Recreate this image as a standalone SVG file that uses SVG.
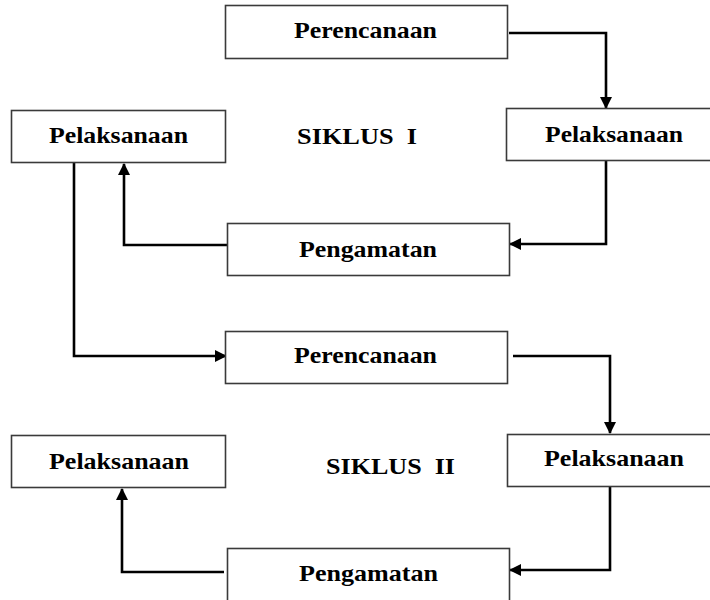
<svg xmlns="http://www.w3.org/2000/svg" width="710" height="600" viewBox="0 0 710 600">
<style>
.box{fill:#fff;stroke:#3a3a3a;stroke-width:1.6}
.lbl{font-family:"Liberation Serif","Times New Roman",serif;font-weight:bold;font-size:24px;fill:#000}
.con{fill:none;stroke:#000;stroke-width:2.6;marker-end:url(#ah)}
</style>
<defs>
<marker id="ah" markerUnits="userSpaceOnUse" markerWidth="12" markerHeight="12" viewBox="0 0 12 12" refX="11" refY="6" orient="auto">
<path d="M0,0 L12,6 L0,12 Z" fill="#000"/>
</marker>
</defs>
<rect width="710" height="600" fill="#fff"/>
<g id="connectors">
<path class="con" d="M509,33 H606 V108"/>
<path class="con" d="M606,161 V244 H510"/>
<path class="con" d="M227,245 H124 V164"/>
<path class="con" d="M74,163 V356 H226"/>
<path class="con" d="M513,356 H610 V433"/>
<path class="con" d="M610,487 V570 H510"/>
<path class="con" d="M224,572 H122 V489"/>
</g>
<g id="perencanaan1"><rect class="box" x="225.5" y="5.5" width="282" height="53"/><text class="lbl" x="294" y="38" textLength="143" lengthAdjust="spacingAndGlyphs">Perencanaan</text></g>
<g id="pelaksanaan1r"><rect class="box" x="506.5" y="108.5" width="220" height="52"/><text class="lbl" x="545" y="142" textLength="138" lengthAdjust="spacingAndGlyphs">Pelaksanaan</text></g>
<g id="pelaksanaan1l"><rect class="box" x="11.5" y="110.5" width="214" height="52"/><text class="lbl" x="49" y="143" textLength="139" lengthAdjust="spacingAndGlyphs">Pelaksanaan</text></g>
<g id="siklus1"><text class="lbl" x="297" y="144" textLength="120" lengthAdjust="spacingAndGlyphs" xml:space="preserve">SIKLUS  I</text></g>
<g id="pengamatan1"><rect class="box" x="227.5" y="223.5" width="282" height="52"/><text class="lbl" x="299" y="257" textLength="138" lengthAdjust="spacingAndGlyphs">Pengamatan</text></g>
<g id="perencanaan2"><rect class="box" x="225.5" y="331.5" width="282" height="52"/><text class="lbl" x="294" y="363" textLength="143" lengthAdjust="spacingAndGlyphs">Perencanaan</text></g>
<g id="pelaksanaan2r"><rect class="box" x="507.5" y="434.5" width="220" height="52"/><text class="lbl" x="544" y="466" textLength="140" lengthAdjust="spacingAndGlyphs">Pelaksanaan</text></g>
<g id="pelaksanaan2l"><rect class="box" x="11.5" y="435.5" width="214" height="52"/><text class="lbl" x="49" y="469" textLength="140" lengthAdjust="spacingAndGlyphs">Pelaksanaan</text></g>
<g id="siklus2"><text class="lbl" x="326" y="474" textLength="129" lengthAdjust="spacingAndGlyphs" xml:space="preserve">SIKLUS  II</text></g>
<g id="pengamatan2"><rect class="box" x="227.5" y="548.5" width="282" height="60"/><text class="lbl" x="299" y="581" textLength="139" lengthAdjust="spacingAndGlyphs">Pengamatan</text></g>
</svg>
